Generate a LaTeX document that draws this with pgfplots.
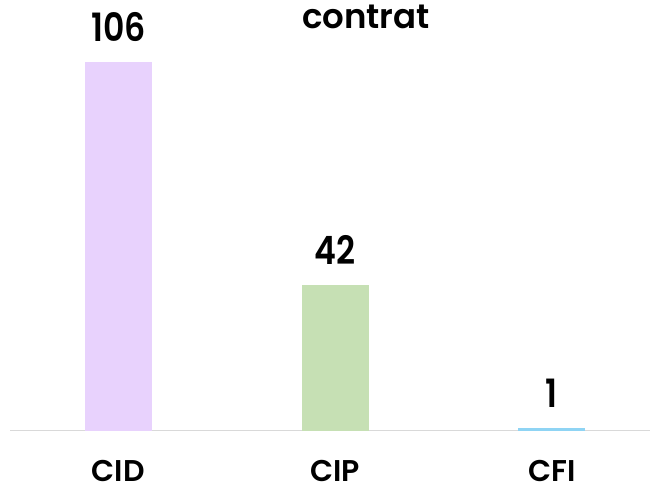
\documentclass[border=0pt]{standalone}
\usepackage{fontspec}
\setmainfont{Poppins}[BoldFont={Poppins SemiBold}]
\newfontfamily\numfont{Poppins SemiBold}[FakeStretch=0.85]
\usepackage{pgfplots}
\pgfplotsset{compat=1.18}
\definecolor{cid}{HTML}{E8D2FD}
\definecolor{cip}{HTML}{C6E0B4}
\definecolor{cfi}{HTML}{8FD4F4}
\definecolor{axisgray}{HTML}{D9D9D9}
\begin{document}
\begin{tikzpicture}
\begin{axis}[
  scale only axis,
  width=640pt, height=431pt,
  xmin=-0.5, xmax=2.453,
  ymin=0, ymax=123.8,
  axis x line=bottom,
  axis y line=none,
  axis line style={draw=axisgray, line width=1pt, -},
  xtick={0,1,2},
  xticklabels={CID,CIP,CFI},
  major tick length=0pt,
  xticklabel style={anchor=base, yshift=-51pt, inner sep=0pt, text depth=0pt, font=\fontsize{30}{30}\selectfont\bfseries},
  ytick=\empty,
  /pgf/number format/assume math mode=true,
  clip=false,
]
\addplot[ybar, bar width=67pt, fill=cid, draw=none,
  nodes near coords, every node near coord/.append style={anchor=base, yshift=20pt, font=\fontsize{39}{39}\selectfont\numfont, text=black}]
  coordinates {(0,106)};
\addplot[ybar, bar width=67pt, fill=cip, draw=none,
  nodes near coords, every node near coord/.append style={anchor=base, yshift=20pt, font=\fontsize{39}{39}\selectfont\numfont, text=black}]
  coordinates {(1,42)};
\addplot[ybar, bar width=67pt, fill=cfi, draw=none,
  nodes near coords, every node near coord/.append style={anchor=base, yshift=20pt, font=\fontsize{39}{39}\selectfont\numfont, text=black}]
  coordinates {(2,1)};
\end{axis}
\node[anchor=base, font=\fontsize{34}{34}\selectfont\bfseries] at (356pt,402pt) {contrat};
\pgfresetboundingbox
\useasboundingbox (-10pt,-55pt) rectangle (640pt,431pt);
\end{tikzpicture}
\end{document}
